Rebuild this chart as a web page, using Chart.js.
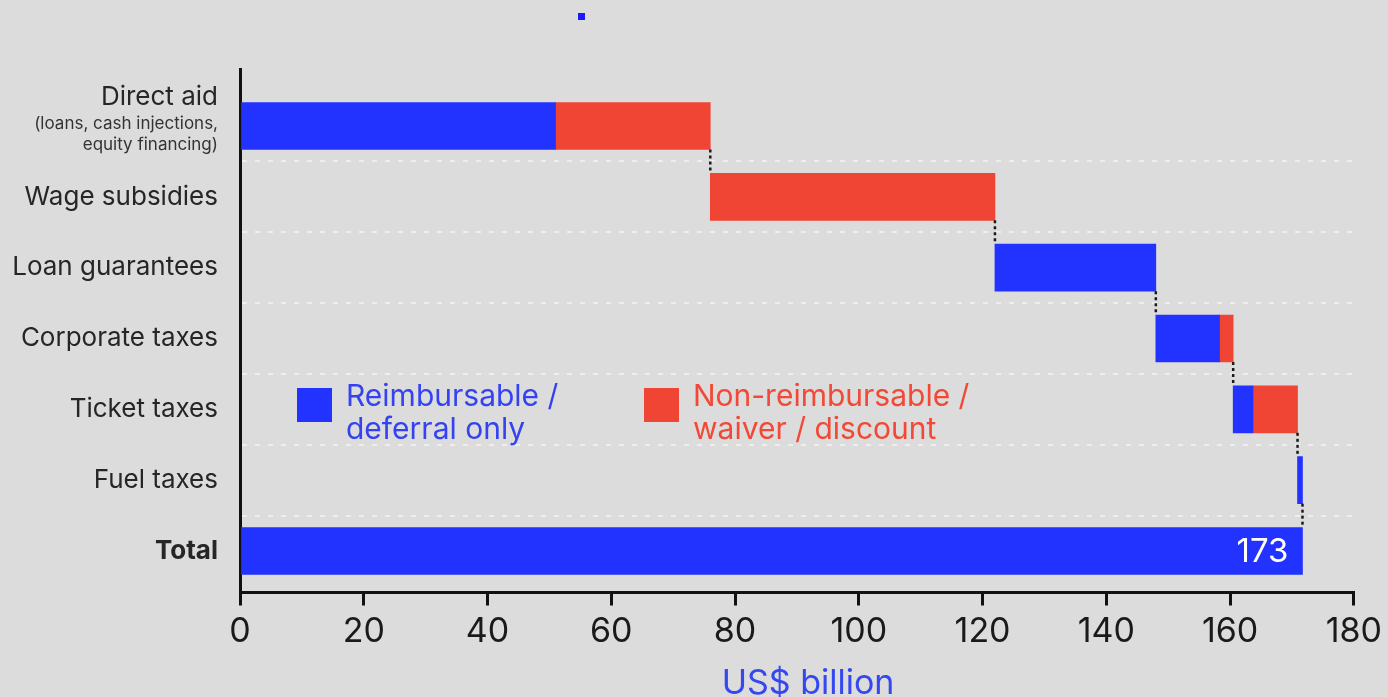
<!DOCTYPE html>
<html>
<head>
<meta charset="utf-8">
<script src="https://cdn.jsdelivr.net/npm/chart.js@4.4.0/dist/chart.umd.min.js"></script>
<style>
html, body { margin: 0; padding: 0; background: #dcdcdc; }
canvas { display: block; }
</style>
</head>
<body>
<canvas id="chart" width="1388" height="697"></canvas>
<script>
// data (US$ billion)
const categories = ['Direct aid', 'Wage subsidies', 'Loan guarantees', 'Corporate taxes', 'Ticket taxes', 'Fuel taxes', 'Total'];
const reimbursable = [51, 0, 26, 10.3, 3.2, 0.8];
const nonReimbursable = [25, 46, 0, 2.2, 7.2, 0];
const totalLabel = '173';
const axisTitle = 'US$ billion';
const directAidNote = ['(loans, cash injections,', 'equity financing)'];
const legendBlue = ['Reimbursable /', 'deferral only'];
const legendRed = ['Non-reimbursable /', 'waiver / discount'];

const BLUE = '#2232ff';
const RED = '#f04534';
const BAR = 47;

// waterfall: each row starts where the previous one ended
const blueBars = [], redBars = [], ends = [];
let run = 0;
reimbursable.forEach((b, i) => {
  const r = nonReimbursable[i];
  if (b > 0) blueBars.push({ y: i, x: [run, run + b] });
  if (r > 0) redBars.push({ y: i, x: [run + b, run + b + r] });
  run += b + r;
  ends.push(run);
});
blueBars.push({ y: categories.length - 1, x: [0, run] });

const overlay = {
  id: 'overlay',
  afterDatasetsDraw(chart) {
    const { ctx, scales: { x, y } } = chart;
    ctx.save();
    // dotted connectors
    ctx.strokeStyle = '#1a1a1a';
    ctx.lineWidth = 2.5;
    ctx.setLineDash([3, 3]);
    ends.forEach((v, i) => {
      const px = x.getPixelForValue(v);
      ctx.beginPath();
      ctx.moveTo(px, y.getPixelForValue(i) + BAR / 2);
      ctx.lineTo(px, y.getPixelForValue(i + 1) - BAR / 2);
      ctx.stroke();
    });
    ctx.setLineDash([]);

    // total value
    ctx.fillStyle = '#fff';
    ctx.font = '33px Inter';
    ctx.textAlign = 'right';
    ctx.textBaseline = 'middle';
    ctx.fillText(totalLabel, x.getPixelForValue(run) - 14, y.getPixelForValue(categories.length - 1) + 1);

    // note under "Direct aid"
    ctx.fillStyle = '#333';
    ctx.font = '17px Inter';
    ctx.fillText(directAidNote[0], 218, y.getPixelForValue(0) - 2);
    ctx.fillText(directAidNote[1], 218, y.getPixelForValue(0) + 19);

    // legend
    ctx.textAlign = 'left';
    ctx.textBaseline = 'alphabetic';
    ctx.font = '30px Inter';
    ctx.fillStyle = BLUE;
    ctx.fillRect(297, 388, 35, 34);
    ctx.fillStyle = '#3442f2';
    ctx.fillText(legendBlue[0], 346, 406);
    ctx.fillText(legendBlue[1], 346, 439);
    ctx.fillStyle = RED;
    ctx.fillRect(644, 388, 35, 34);
    ctx.fillStyle = '#f24836';
    ctx.fillText(legendRed[0], 693, 406);
    ctx.fillText(legendRed[1], 693, 439);

    // axis title
    ctx.textAlign = 'center';
    ctx.font = '34px Inter';
    ctx.fillStyle = '#3447f0';
    ctx.fillText(axisTitle, 808, 694);

    // small marker at the top
    ctx.fillStyle = '#1a1aff';
    ctx.fillRect(578, 13, 7, 7);
    ctx.restore();
  }
};

const isRow = c => c.tick && Number.isInteger(c.tick.value);

new Chart(document.getElementById('chart'), {
  type: 'bar',
  data: {
    datasets: [
      { label: legendBlue.join(' '), data: blueBars, backgroundColor: BLUE, barThickness: BAR, grouped: false },
      { label: legendRed.join(' '), data: redBars, backgroundColor: RED, barThickness: BAR, grouped: false }
    ]
  },
  options: {
    indexAxis: 'y',
    responsive: false,
    devicePixelRatio: 1,
    animation: false,
    layout: { padding: { left: 0, top: 69, right: 34, bottom: 0 } },
    plugins: { legend: { display: false }, tooltip: { enabled: false } },
    scales: {
      x: {
        type: 'linear',
        min: 0,
        max: 180,
        ticks: { stepSize: 20, padding: 6, color: '#1a1a1a', font: { family: 'Inter', size: 34 } },
        grid: { drawOnChartArea: false, color: '#111', lineWidth: 3, tickLength: 13 },
        border: { color: '#111', width: 3 },
        afterFit: s => { s.height = 104.5; }
      },
      y: {
        type: 'linear',
        reverse: true,
        offset: false,
        min: -0.805,
        max: 6.586,
        afterBuildTicks: s => {
          const t = [];
          for (let v = 0; v <= categories.length - 1; v += 0.5) t.push({ value: v });
          s.ticks = t;
        },
        afterFit: s => { s.width = 240; },
        grid: {
          offset: false,
          color: c => (!c.tick || isRow(c)) ? 'rgba(0,0,0,0)' : '#eeeeee',
          lineWidth: 2,
          drawTicks: false
        },
        border: { display: true, color: '#111', width: 3, dash: [5, 8] },
        ticks: {
          autoSkip: false,
          padding: 22,
          color: '#262626',
          font: c => ({ family: 'Inter', size: 26, lineHeight: 1.12, weight: c.tick && c.tick.value === categories.length - 1 ? 'bold' : 'normal' }),
          callback: v => {
            if (!Number.isInteger(v)) return '';
            return v === 0 ? [categories[0], '', ''] : categories[v];
          }
        }
      }
    }
  },
  plugins: [overlay]
});
</script>
</body>
</html>
